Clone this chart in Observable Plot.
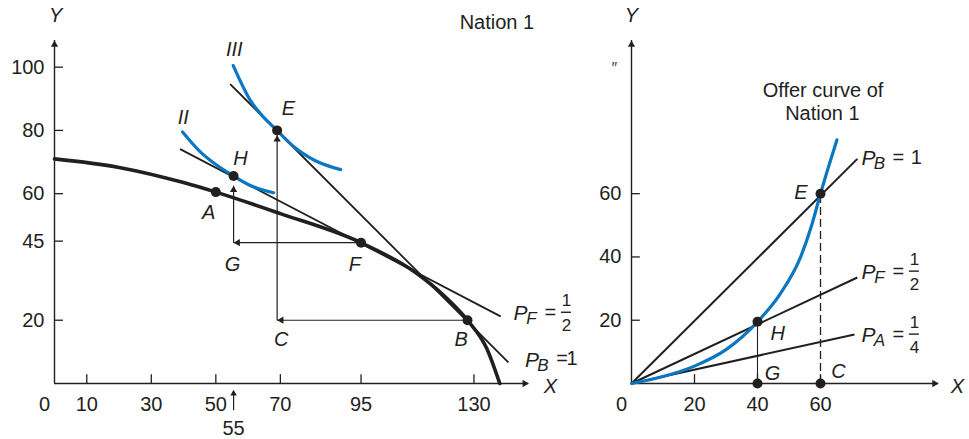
<!DOCTYPE html>
<html>
<head>
<meta charset="utf-8">
<script src="https://cdn.jsdelivr.net/npm/d3@7"></script>
<script src="https://cdn.jsdelivr.net/npm/@observablehq/plot@0.6"></script>
<style>
  html, body { margin: 0; padding: 0; background: #fff; }
  #wrap { display: flex; width: 969px; height: 439px; overflow: hidden; }
  #wrap svg { overflow: visible; }
</style>
</head>
<body>
<div id="wrap"></div>
<script>
// ---------------- DATA ----------------
// Left panel: Nation 1 production frontier, price lines, indifference curves
const leftXTicks = [10, 30, 50, 70, 95, 130];
const leftYTicks = [20, 45, 60, 80, 100];

const ppfX = [0, 20, 40, 50, 70, 95, 112, 121, 128, 134, 138];
const ppfY = [71, 68.3, 63.5, 60.5, 53.7, 44.5, 35, 27.5, 20, 11, 0];

const pbLineX = [54.6, 140.5];          // P_B = 1
const pbLineY = [94.5, 6.8];
const pfLineX = [39.1, 138.1];          // P_F = 1/2
const pfLineY = [74, 21.3];

const icIIX = [39.7, 45.2, 50, 55.5, 60.7, 67.9];
const icIIY = [79.5, 73.2, 69.2, 65.6, 62.6, 60.3];
const icIIIX = [55.4, 60.7, 64.5, 69, 74, 80.7, 88.7];
const icIIIY = [100.5, 89.5, 84.5, 80, 75, 70.5, 67.6];

const leftPointNames = ["A", "H", "E", "F", "B"];
const leftPointX = [50, 55.5, 69, 95, 128];
const leftPointY = [60.5, 65.6, 80, 44.5, 20];

// trade triangles: B -> C -> E and F -> G -> H
const arrowFromX = [128, 69, 95, 55.5];
const arrowFromY = [20, 20, 44.5, 44.5];
const arrowToX = [69, 69, 55.5, 55.5];
const arrowToY = [20, 78.5, 44.5, 62.5];
const arrowDir = ["left", "up", "left", "up"];

// Right panel: offer curve of Nation 1
const rightXTicks = [20, 40, 60];
const rightYTicks = [20, 40, 60];
const rayNames = ["B", "F", "A"];
const rayEndX = [71.7, 71.7, 70.8];
const rayEndY = [71, 33.5, 15.5];

const offerX = [0, 10, 20, 30, 40, 47, 53.7, 57.2, 60, 62.7, 65.2];
const offerY = [0, 2.2, 5.5, 10.7, 19.5, 28, 40, 50, 60, 69, 77];

const rightPointNames = ["E", "H", "G", "C"];
const rightPointX = [60, 40, 40, 60];
const rightPointY = [60, 19.5, 0, 0];

// ---------------- ANNOTATIONS ----------------
const leftLabelText = ["II", "III", "E", "H", "A", "G", "F", "C", "B"];
const leftLabelX = [39.9, 55.7, 72.5, 57.6, 47.8, 55.2, 93.1, 70.3, 126];
const leftLabelY = [84.2, 105.5, 87, 71.1, 54, 37.6, 37.6, 14, 14];

const rightLabelText = ["E", "H", "G", "C"];
const rightLabelX = [53.8, 46.4, 44.8, 65.7];
const rightLabelY = [60.5, 15.8, 3.2, 3.7];

const leftPriceLabels = [
  {x: 144.4, y: 22.2, sub: "F", num: "1", den: "2"},
  {x: 148.0, y: 7.4, sub: "B", num: "1", den: null}
];
const rightPriceLabels = [
  {x: 75.2, y: 71.2, sub: "B", num: "1", den: null},
  {x: 75.2, y: 35.2, sub: "F", num: "1", den: "2"},
  {x: 75.2, y: 15.3, sub: "A", num: "1", den: "4"}
];

// ---------------- HELPERS ----------------
const FONT = "'Liberation Sans', Arial, Helvetica, sans-serif";
const INK = "#231f20";
const BLUE = "#0b77c0";
const pts = (xs, ys) => xs.map((x, i) => ({x, y: ys[i]}));

function head(data, dir, r = 2.7) {
  const rot = {up: 0, right: 90, left: -90, down: 180}[dir];
  const off = r * 1.55;
  return Plot.dot(data, {
    x: "x", y: "y", symbol: "triangle", r, rotate: rot, fill: INK, stroke: "none",
    dx: dir === "right" ? -off : dir === "left" ? off : 0,
    dy: dir === "up" ? off : dir === "down" ? -off : 0
  });
}

function priceLabel(l, single) {
  const d = [l];
  const b = {x: "x", y: "y", fontFamily: FONT, fill: INK, textAnchor: "middle"};
  const m = [
    Plot.text(d, {...b, text: () => "P", fontSize: 21, fontStyle: "italic"}),
    Plot.text(d, {...b, text: "sub", fontSize: 17, fontStyle: "italic", dx: 11, dy: 5}),
    Plot.text(d, {...b, text: () => "=", fontSize: 20, dx: 30, dy: -1})
  ];
  if (l.den) {
    m.push(Plot.text(d, {...b, text: "num", fontSize: 17, dx: 46, dy: -13}));
    m.push(Plot.ruleY(d, {x1: "x", x2: "x", y: "y", dx: 46, dy: -1, insetLeft: -5, insetRight: -5, stroke: INK, strokeWidth: 1.4}));
    m.push(Plot.text(d, {...b, text: "den", fontSize: 17, dx: 46, dy: 12}));
  } else {
    m.push(Plot.text(d, {...b, text: "num", fontSize: 20, dx: single, dy: -1}));
  }
  return m;
}

const baseStyle = {fontFamily: FONT, fontSize: "20px", color: INK, background: "transparent", overflow: "visible"};

// ---------------- LEFT PANEL ----------------
const leftPts = leftPointNames.map((n, i) => ({n, x: leftPointX[i], y: leftPointY[i]}));
const arrows = arrowFromX.map((x1, i) => ({x1, y1: arrowFromY[i], x2: arrowToX[i], y2: arrowToY[i], dir: arrowDir[i]}));
const arrowHeads = arrows.map(a => ({x: a.x2, y: a.y2, dir: a.dir}));
const leftLabels = leftLabelText.map((t, i) => ({t, x: leftLabelX[i], y: leftLabelY[i]}));

const left = Plot.plot({
  width: 580, height: 439,
  marginLeft: 54, marginRight: 42, marginTop: 35, marginBottom: 56,
  x: {domain: [0, 150], axis: null},
  y: {domain: [0, 110], axis: null},
  style: baseStyle,
  marks: [
    // axes
    Plot.ruleY([0], {x1: 0, x2: 147, stroke: INK, strokeWidth: 1.4}),
    Plot.ruleX([0], {y1: 0, y2: 108.4, stroke: INK, strokeWidth: 1.4}),
    head([{x: 147, y: 0}], "right"),
    head([{x: 0, y: 108.4}], "up"),
    Plot.ruleX(leftXTicks, {y1: 0, y2: 2.8, stroke: INK, strokeWidth: 1.3}),
    Plot.ruleY(leftYTicks, {x1: 0, x2: 2.8, stroke: INK, strokeWidth: 1.3}),
    Plot.text(leftXTicks, {x: d => d, y: 0, dy: 21, text: d => String(d), fontSize: 20, fill: INK}),
    Plot.text([0], {x: d => d, y: 0, dx: -10, dy: 21, text: d => String(d), fontSize: 20, fill: INK}),
    Plot.text(leftYTicks, {x: 0, y: d => d, dx: -10, textAnchor: "end", text: d => String(d), fontSize: 20, fill: INK}),
    // 55 marker below axis
    Plot.ruleX([55.5], {y1: -8.6, y2: -3.5, stroke: INK, strokeWidth: 1.2}),
    head([{x: 55.5, y: -2.0}], "up", 2.4),
    Plot.text([55], {x: 55.5, y: -14.1, text: d => String(d), fontSize: 20, fill: INK}),
    // trade triangle arrows
    Plot.link(arrows, {x1: "x1", y1: "y1", x2: "x2", y2: "y2", stroke: INK, strokeWidth: 1.2}),
    head(arrowHeads.filter(a => a.dir === "left"), "left"),
    head(arrowHeads.filter(a => a.dir === "up"), "up"),
    // production frontier
    Plot.line(pts(ppfX, ppfY), {x: "x", y: "y", curve: "monotone-x", stroke: INK, strokeWidth: 3.6}),
    // price lines
    Plot.line(pts(pbLineX, pbLineY), {x: "x", y: "y", stroke: INK, strokeWidth: 1.8}),
    Plot.line(pts(pfLineX, pfLineY), {x: "x", y: "y", stroke: INK, strokeWidth: 1.8}),
    // indifference curves
    Plot.line(pts(icIIX, icIIY), {x: "x", y: "y", curve: "monotone-x", stroke: BLUE, strokeWidth: 3.2}),
    Plot.line(pts(icIIIX, icIIIY), {x: "x", y: "y", curve: "monotone-x", stroke: BLUE, strokeWidth: 3.2}),
    // points
    Plot.dot(leftPts, {x: "x", y: "y", r: 5, fill: INK, stroke: "none"}),
    // labels
    Plot.text(leftLabels, {x: "x", y: "y", text: "t", fontSize: 20, fontStyle: "italic", fill: INK}),
    Plot.text(["Y"], {x: 0.4, y: 116.3, text: d => d, fontSize: 20, fontStyle: "italic", fill: INK}),
    Plot.text(["X"], {x: 153.7, y: -1.1, text: d => d, fontSize: 20, fontStyle: "italic", fill: INK}),
    Plot.text(["Nation 1"], {x: 137.1, y: 114.2, text: d => d, fontSize: 20, fill: INK}),
    ...priceLabel(leftPriceLabels[0]),
    ...priceLabel(leftPriceLabels[1], 40)
  ]
});

// ---------------- RIGHT PANEL ----------------
const rays = rayNames.map((n, i) => ({n, x1: 0, y1: 0, x2: rayEndX[i], y2: rayEndY[i]}));
const rightPts = rightPointNames.map((n, i) => ({n, x: rightPointX[i], y: rightPointY[i]}));
const rightLabels = rightLabelText.map((t, i) => ({t, x: rightLabelX[i], y: rightLabelY[i]}));
const ptE = rightPts.find(p => p.n === "E");
const ptH = rightPts.find(p => p.n === "H");

const right = Plot.plot({
  width: 389, height: 439,
  marginLeft: 51, marginRight: 23, marginTop: 35, marginBottom: 56,
  x: {domain: [0, 100], axis: null},
  y: {domain: [0, 110], axis: null},
  style: baseStyle,
  marks: [
    Plot.ruleY([0], {x1: 0, x2: 97.5, stroke: INK, strokeWidth: 1.4}),
    Plot.ruleX([0], {y1: 0, y2: 108.4, stroke: INK, strokeWidth: 1.4}),
    head([{x: 97.5, y: 0}], "right"),
    head([{x: 0, y: 108.4}], "up"),
    Plot.ruleX(rightXTicks, {y1: 0, y2: 2.8, stroke: INK, strokeWidth: 1.3}),
    Plot.ruleY(rightYTicks, {x1: 0, x2: 2.8, stroke: INK, strokeWidth: 1.3}),
    Plot.text(rightXTicks, {x: d => d, y: 0, dy: 21, text: d => String(d), fontSize: 20, fill: INK}),
    Plot.text([0], {x: d => d, y: 0, dx: -10, dy: 21, text: d => String(d), fontSize: 20, fill: INK}),
    Plot.text(rightYTicks, {x: 0, y: d => d, dx: -10, textAnchor: "end", text: d => String(d), fontSize: 20, fill: INK}),
    Plot.text(["\u2033"], {x: -5.7, y: 99.5, text: d => d, fontSize: 16, fontStyle: "italic", fill: "#444"}),
    // drop lines
    Plot.ruleX([ptE], {x: "x", y1: 0, y2: "y", stroke: INK, strokeWidth: 1.3, strokeDasharray: "8,4"}),
    Plot.ruleX([ptH], {x: "x", y1: 0, y2: "y", stroke: INK, strokeWidth: 1.1}),
    // price rays
    Plot.link(rays, {x1: "x1", y1: "y1", x2: "x2", y2: "y2", stroke: INK, strokeWidth: 2}),
    // offer curve
    Plot.line(pts(offerX, offerY), {x: "x", y: "y", curve: "monotone-x", stroke: BLUE, strokeWidth: 3.2}),
    Plot.dot(rightPts, {x: "x", y: "y", r: 5, fill: INK, stroke: "none"}),
    Plot.text(rightLabels, {x: "x", y: "y", text: "t", fontSize: 20, fontStyle: "italic", fill: INK}),
    Plot.text(["Y"], {x: 0, y: 116.3, text: d => d, fontSize: 20, fontStyle: "italic", fill: INK}),
    Plot.text(["X"], {x: 103.5, y: -1.1, text: d => d, fontSize: 20, fontStyle: "italic", fill: INK}),
    Plot.text(["Offer curve of"], {x: 60.8, y: 92.6, text: d => d, fontSize: 20, fill: INK}),
    Plot.text(["Nation 1"], {x: 60.6, y: 85.3, text: d => d, fontSize: 20, fill: INK}),
    ...priceLabel(rightPriceLabels[0], 48),
    ...priceLabel(rightPriceLabels[1]),
    ...priceLabel(rightPriceLabels[2])
  ]
});

document.getElementById("wrap").append(left, right);
</script>
</body>
</html>
